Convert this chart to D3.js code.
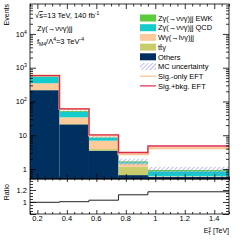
<!DOCTYPE html>
<html>
<head>
<meta charset="utf-8">
<script src="https://cdn.jsdelivr.net/npm/d3@7"></script>
<style>
  body { margin: 0; background: #fff; }
  text { font-family: "Liberation Sans", Arial, sans-serif; fill: #000; }
</style>
</head>
<body>
<svg id="chart" width="249" height="240"></svg>
<script>
// bins in E_T^gamma [TeV]
const binEdges = [0.15, 0.35, 0.55, 0.75, 0.95, 1.5];
// stacked backgrounds, bottom -> top
const others  = [216, 21, 3.5, 0.66, 0.58];
const ttgamma = [3, 0.5, 0.4, 0.5, 0.01];
const wgamma  = [127, 12.5, 3.0, 0.3, 0.02];
const zgQCD   = [190, 15, 1.4, 0.12, 0.24];
const zgEWK   = [15, 3, 0.3, 0.1, 0.08];
const mcUnc   = [0.03, 0.06, 0.1, 0.2, 0.25];   // relative
const sigOnly = [584, 59.7, 9.9, 2.75, 4.1];
const sigBkg  = [581, 60, 10.2, 3.08, 4.8];
const ratio   = [0.995, 1.005, 1.03, 1.12, 1.17];
const xTicks  = [0.2, 0.4, 0.6, 0.8, 1, 1.2, 1.4];
const yDecades = [1, 10, 100, 1000, 10000];
const ratioTicks = [1, 1.2];

const keys = ["others", "ttgamma", "wgamma", "zgQCD", "zgEWK"];
const colors = {
  zgEWK: "#5ccc3c", zgQCD: "#14cccc", wgamma: "#fdcb9b",
  ttgamma: "#c9cc6c", others: "#00305f"
};

const L = 30, R = 229, T = 4, MB = 179, RB = 214;
const svg = d3.select("#chart");

const x = d3.scaleLinear().domain([0.15, 1.5]).range([L, R]);
const y = d3.scaleLog().domain([0.506, 7.7e4]).range([MB, T]).clamp(true);
const yr = d3.scaleLinear().domain([0.8, 1.383]).range([RB, MB]);

const rows = others.map((_, i) => ({
  x0: binEdges[i], x1: binEdges[i + 1],
  others: others[i], ttgamma: ttgamma[i], wgamma: wgamma[i],
  zgQCD: zgQCD[i], zgEWK: zgEWK[i]
}));
const stacked = d3.stack().keys(keys)(rows);

const defs = svg.append("defs");
const pat = defs.append("pattern").attr("id", "hatch")
  .attr("patternUnits", "userSpaceOnUse").attr("width", 3).attr("height", 3)
  .attr("patternTransform", "rotate(45)");
pat.append("line").attr("x1", 0).attr("y1", 0).attr("x2", 0).attr("y2", 3)
  .attr("stroke", "#6a6cf0").attr("stroke-width", 0.9);
defs.append("clipPath").attr("id", "mainclip").append("rect")
  .attr("x", L).attr("y", T).attr("width", R - L).attr("height", MB - T);

const plot = svg.append("g").attr("clip-path", "url(#mainclip)");

// stack
stacked.forEach(layer => {
  plot.append("g").selectAll("rect").data(layer).enter().append("rect")
    .attr("x", d => x(d.data.x0))
    .attr("width", d => x(d.data.x1) - x(d.data.x0))
    .attr("y", d => y(d[1]))
    .attr("height", d => y(Math.max(d[0], 0.506)) - y(d[1]))
    .attr("fill", colors[layer.key]);
});

// MC uncertainty band
const totals = rows.map(r => keys.reduce((s, k) => s + r[k], 0));
plot.append("g").selectAll("rect").data(totals).enter().append("rect")
  .attr("x", (d, i) => x(binEdges[i]))
  .attr("width", (d, i) => x(binEdges[i + 1]) - x(binEdges[i]))
  .attr("y", (d, i) => y(d * (1 + mcUnc[i])))
  .attr("height", (d, i) => y(d * (1 - mcUnc[i])) - y(d * (1 + mcUnc[i])))
  .attr("fill", "url(#hatch)");

function stepPts(vals) {
  const pts = [];
  vals.forEach((v, i) => { pts.push([binEdges[i], v]); pts.push([binEdges[i + 1], v]); });
  return pts;
}
const lineMain = d3.line().x(d => x(d[0])).y(d => y(d[1]));
plot.append("path").attr("d", lineMain(stepPts(sigOnly)))
  .attr("fill", "none").attr("stroke", "#f9c190").attr("stroke-width", 2);
plot.append("path").attr("d", lineMain(stepPts(sigBkg)))
  .attr("fill", "none").attr("stroke", "#dc2a4c").attr("stroke-width", 1.3);

// ratio
const lineRatio = d3.line().x(d => x(d[0])).y(d => yr(d[1]));
svg.append("path").attr("d", lineRatio(stepPts(ratio)))
  .attr("fill", "none").attr("stroke", "#222").attr("stroke-width", 1);

// axes helpers
function styleAxis(g) {
  g.select(".domain").remove();
  g.selectAll("line").attr("stroke", "#000").attr("stroke-width", 0.8);
}
const xMinor = d3.range(0.15, 1.5001, 0.05).map(v => +v.toFixed(2)).filter(v => !xTicks.includes(v));
const yMinor = [];
[-1, 0, 1, 2, 3, 4].forEach(e => d3.range(2, 10).forEach(k => {
  const v = k * Math.pow(10, e);
  if (v > 0.506 && v < 7.7e4) yMinor.push(v);
}));

function xAxes(yPos, dir, maj, min) {
  const mk = dir === "up" ? d3.axisTop : d3.axisBottom;
  svg.append("g").attr("transform", `translate(0,${yPos})`)
    .call(mk(x).tickValues(xTicks).tickSize(maj).tickFormat("")).call(styleAxis);
  svg.append("g").attr("transform", `translate(0,${yPos})`)
    .call(mk(x).tickValues(xMinor).tickSize(min).tickFormat("")).call(styleAxis);
}
xAxes(MB, "up", 5, 2.5);
xAxes(T, "down", 5, 2.5);
xAxes(RB, "up", 4, 2);
xAxes(MB, "down", 3, 1.5);

function yAxes(scale, maj, majVals, minVals) {
  [[d3.axisRight, L], [d3.axisLeft, R]].forEach(([mk, xPos]) => {
    svg.append("g").attr("transform", `translate(${xPos},0)`)
      .call(mk(scale).tickValues(majVals).tickSize(maj).tickFormat("")).call(styleAxis);
    svg.append("g").attr("transform", `translate(${xPos},0)`)
      .call(mk(scale).tickValues(minVals).tickSize(maj / 2).tickFormat("")).call(styleAxis);
  });
}
yAxes(y, 6, yDecades, yMinor);
yAxes(yr, 6, [0.8, 1, 1.2], [0.85, 0.9, 0.95, 1.05, 1.1, 1.15, 1.25, 1.3, 1.35]);

// frames
svg.append("rect").attr("x", L).attr("y", T).attr("width", R - L).attr("height", MB - T)
  .attr("fill", "none").attr("stroke", "#000").attr("stroke-width", 0.8);
svg.append("rect").attr("x", L).attr("y", MB).attr("width", R - L).attr("height", RB - MB)
  .attr("fill", "none").attr("stroke", "#000").attr("stroke-width", 0.8);

// tick labels
svg.append("g").selectAll("text").data(xTicks).enter().append("text")
  .attr("x", d => x(d)).attr("y", 221).attr("text-anchor", "middle")
  .attr("font-size", 7.5).text(d => d3.format("~g")(d));

yDecades.forEach(v => {
  const t = svg.append("text").attr("x", 27).attr("y", y(v) + 2.7)
    .attr("text-anchor", "end").attr("font-size", 7.5);
  const e = Math.round(Math.log10(v));
  if (e < 2) t.text(v);
  else {
    t.append("tspan").text("10");
    t.append("tspan").attr("font-size", 5.2).attr("dy", -3).text(e);
  }
});
ratioTicks.forEach(v => {
  svg.append("text").attr("x", 27).attr("y", yr(v) + 2.7)
    .attr("text-anchor", "end").attr("font-size", 7.5).text(v);
});

// axis titles
svg.append("text").attr("transform", "translate(9,4) rotate(-90)")
  .attr("text-anchor", "end").attr("font-size", 7).text("Events");
svg.append("text").attr("transform", "translate(9,184) rotate(-90)")
  .attr("text-anchor", "end").attr("font-size", 7).text("Ratio");
const xt = svg.append("text").attr("x", 229).attr("y", 233)
  .attr("text-anchor", "end").attr("font-size", 7);
xt.append("tspan").text("E");
xt.append("tspan").attr("font-size", 5).attr("dy", -3).text("γ");
xt.append("tspan").attr("font-size", 5).attr("dx", -3).attr("dy", 5).text("T");
xt.append("tspan").attr("dy", -2).text(" [TeV]");

// labels top-left
const lab1 = svg.append("text").attr("x", 35).attr("y", 18).attr("font-size", 7.5);
lab1.append("tspan").text("√");
lab1.append("tspan").attr("text-decoration", "overline").text("s");
lab1.append("tspan").text("=13 TeV, 140 fb");
lab1.append("tspan").attr("font-size", 5).attr("dy", -3).text("-1");
svg.append("text").attr("x", 37).attr("y", 31).attr("font-size", 7.5).text("Zγ(→ννγ)jj");
const lab3 = svg.append("text").attr("x", 37).attr("y", 44).attr("font-size", 7.5);
lab3.append("tspan").text("f");
lab3.append("tspan").attr("font-size", 5).attr("dy", 1.5).text("M4");
lab3.append("tspan").attr("dy", -1.5).text("/Λ");
lab3.append("tspan").attr("font-size", 5).attr("dy", -3).text("4");
lab3.append("tspan").attr("dy", 3).text("=3 TeV");
lab3.append("tspan").attr("font-size", 5).attr("dy", -3).text("-4");

// legend
const legendItems = [
  { label: "Zγ(→ννγ)jj EWK", type: "box", color: colors.zgEWK },
  { label: "Zγ(→ννγ)jj QCD", type: "box", color: colors.zgQCD },
  { label: "Wγ(→lνγ)jj", type: "box", color: colors.wgamma },
  { label: "tt̄γ", type: "box", color: colors.ttgamma },
  { label: "Others", type: "box", color: colors.others },
  { label: "MC uncertainty", type: "box", color: "url(#hatch)" },
  { label: "Sig.-only EFT", type: "line", color: "#f9c190" },
  { label: "Sig.+bkg. EFT", type: "line", color: "#dc2a4c" }
];
const lg = svg.append("g").attr("transform", "translate(140,18)");
legendItems.forEach((it, i) => {
  const g = lg.append("g").attr("transform", `translate(0,${i * 9.7})`);
  if (it.type === "box") {
    g.append("rect").attr("x", 0).attr("y", -3.5).attr("width", 16).attr("height", 7)
      .attr("fill", it.color);
  } else {
    g.append("line").attr("x1", 0).attr("x2", 16).attr("y1", 0).attr("y2", 0)
      .attr("stroke", it.color).attr("stroke-width", 1.2);
  }
  g.append("text").attr("x", 18).attr("y", 2.7).attr("font-size", 7.5).text(it.label);
});
</script>
</body>
</html>
